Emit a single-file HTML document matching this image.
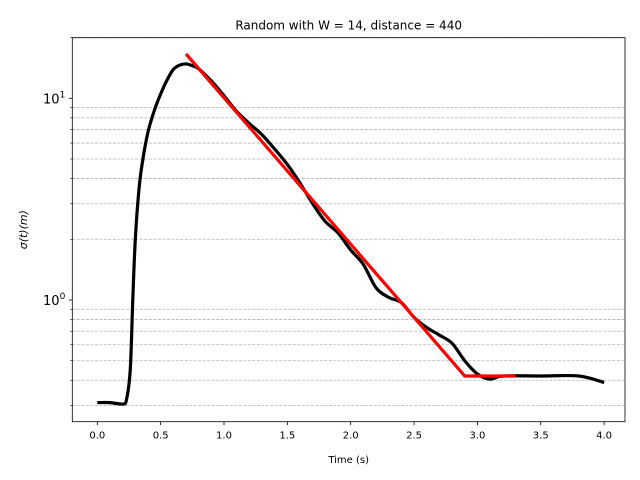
<!DOCTYPE html>
<html><head><meta charset="utf-8"><style>
body{margin:0;background:#fff}
svg{display:block;font-family:"DejaVu Sans","Liberation Sans",sans-serif}
</style></head><body>
<svg id="c" width="640" height="480"></svg>
<script>
const blackT=[0,0.1,0.2,0.23,0.26,0.28,0.3,0.33,0.36,0.4,0.45,0.5,0.55,0.6,0.65,0.7,0.75,0.8,0.9,1.0,1.1,1.2,1.3,1.4,1.5,1.6,1.7,1.8,1.9,2.0,2.1,2.2,2.3,2.4,2.5,2.6,2.7,2.8,2.9,3.0,3.1,3.2,3.5,3.8,4.0];
const blackV=[0.31,0.31,0.305,0.32,0.45,1.0,2.0,3.6,5.0,6.8,8.7,10.5,12.3,13.9,14.6,14.8,14.5,14.0,12.2,10.3,8.6,7.5,6.6,5.6,4.7,3.8,3.0,2.45,2.15,1.77,1.5,1.15,1.03,0.97,0.82,0.73,0.67,0.61,0.5,0.43,0.405,0.42,0.42,0.42,0.39];
const redT=[0.7,2.9,3.3];
const redV=[16.6,0.42,0.42];
const xTicks=[0,0.5,1,1.5,2,2.5,3,3.5,4];
const xTickLabels=["0.0","0.5","1.0","1.5","2.0","2.5","3.0","3.5","4.0"];
const L=72.3,R=625,T=37.7,B=421.7;
const x=t=>97.3+t*126.7;
const y=v=>300-Math.log10(v)*201.7;
const svg=document.getElementById('c');
const NS='http://www.w3.org/2000/svg';
function mk(tag,attrs,parent){const e=document.createElementNS(NS,tag);for(const k in attrs)e.setAttribute(k,attrs[k]);(parent||svg).appendChild(e);return e;}
const minors=[];
[0.1,1,10].forEach(d=>{for(let m=2;m<=9;m++)minors.push(m*d);});
minors.forEach(v=>{const yy=y(v);if(yy<T-1||yy>B)return;
 const g=mk('line',{x1:L,x2:R,y1:yy,y2:yy,stroke:'#b0b0b0','stroke-width':0.8,'stroke-dasharray':'3,1.5'});
 
 
 const tk=mk('line',{x1:L-2,x2:L,y1:yy,y2:yy,stroke:'#000','stroke-width':0.6});
 
 
});
[[1,'0'],[10,'1']].forEach(([v,e])=>{const yy=y(v);
 mk('line',{x1:L-3.5,x2:L,y1:yy,y2:yy,stroke:'#000','stroke-width':0.8});
 const t=mk('text',{x:L-7,y:yy+5,'text-anchor':'end','font-size':13});
 
 
 t.innerHTML='10<tspan dy="-6" font-size="9">'+e+'</tspan>';
});
xTicks.forEach((t,i)=>{const xx=x(t);
 mk('line',{x1:xx,x2:xx,y1:B,y2:B+3.5,stroke:'#000','stroke-width':0.8});
 const tx=mk('text',{x:xx,y:B+17,'text-anchor':'middle','font-size':10});
 
 
 tx.textContent=xTickLabels[i];
});
function smooth(T_,V_){const p=T_.map((t,i)=>[x(t),y(V_[i])]);let d='M'+p[0][0]+','+p[0][1];
 for(let i=0;i<p.length-1;i++){const p0=p[i-1]||p[i],p1=p[i],p2=p[i+1],p3=p[i+2]||p2;
  const c1=[p1[0]+(p2[0]-p0[0])/6,p1[1]+(p2[1]-p0[1])/6],c2=[p2[0]-(p3[0]-p1[0])/6,p2[1]-(p3[1]-p1[1])/6];
  d+=' C'+c1.join(',')+' '+c2.join(',')+' '+p2.join(',');}
 return d;}
const bl=mk('path',{d:smooth(blackT,blackV),fill:'none',stroke:'#000','stroke-width':3.2,'stroke-linejoin':'round'});


const rl=mk('path',{d:'M'+redT.map((t,i)=>x(t)+','+y(redV[i])).join(' L'),fill:'none',stroke:'#ff0000','stroke-width':3.2});


const fr=mk('rect',{x:L,y:T,width:R-L,height:B-T,fill:'none',stroke:'#000','stroke-width':0.8});


const ti=mk('text',{x:(L+R)/2,y:T-8,'text-anchor':'middle','font-size':12});


ti.textContent='Random with W = 14, distance = 440';
const xl=mk('text',{x:(L+R)/2,y:463,'text-anchor':'middle','font-size':10});


xl.textContent='Time (s)';
const yl=mk('text',{x:0,y:0,'text-anchor':'middle','font-size':11,'font-style':'italic',transform:'translate(27,'+((T+B)/2)+') rotate(-90)'});


yl.textContent='σ(t)(m)';
</script>
</body></html>
